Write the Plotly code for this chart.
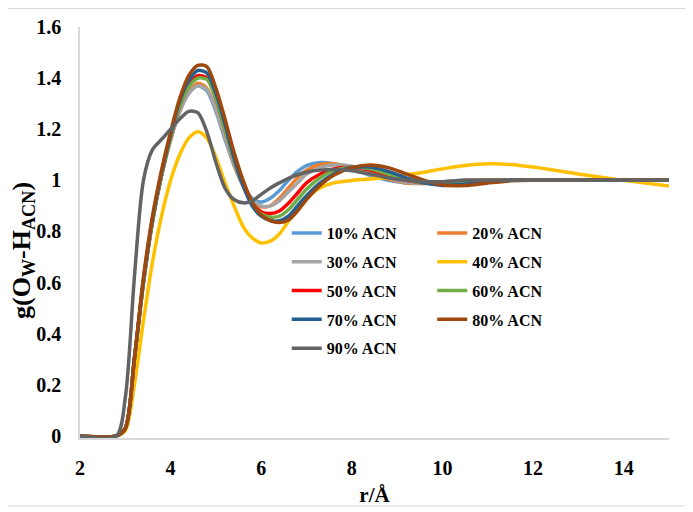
"""RDF plot g(Ow-H_ACN) vs r for water/ACN mixtures."""

import plotly.graph_objects as go

# ------------------------------------------------------------------
# Data
# ------------------------------------------------------------------
r = [2.0, 2.8, 3.0, 3.2, 3.4, 3.6, 3.8, 4.0, 4.2, 4.4, 4.6, 4.8, 5.0, 5.2, 5.4,
     5.6, 5.8, 6.0, 6.2, 6.4, 6.6, 6.8, 7.0, 7.3, 7.6, 8.0, 8.4, 8.8, 9.2, 9.6,
     10.0, 10.5, 11.0, 11.5, 12.0, 13.0, 14.0, 15.0]

g10 = [0, 0, 0.03, 0.3, 0.6, 0.84, 1.02, 1.16, 1.27, 1.34, 1.37, 1.35, 1.27, 1.16,
       1.06, 0.98, 0.93, 0.915, 0.93, 0.96, 1.0, 1.035, 1.058, 1.07, 1.065, 1.045,
       1.02, 1.0, 0.99, 0.99, 0.995, 1.0, 1.0, 1.0, 1.0, 1.0, 1.0, 1.0]
g20 = [0, 0, 0.03, 0.3, 0.6, 0.84, 1.02, 1.16, 1.27, 1.345, 1.38, 1.36, 1.28, 1.17,
       1.06, 0.98, 0.92, 0.897, 0.9, 0.93, 0.97, 1.01, 1.04, 1.062, 1.065, 1.05,
       1.025, 1.005, 0.99, 0.988, 0.993, 1.0, 1.0, 1.0, 1.0, 1.0, 1.0, 1.0]
g30 = [0, 0, 0.03, 0.3, 0.6, 0.84, 1.02, 1.16, 1.27, 1.34, 1.37, 1.355, 1.28, 1.17,
       1.06, 0.98, 0.925, 0.9, 0.9, 0.92, 0.955, 0.99, 1.025, 1.05, 1.06, 1.055,
       1.03, 1.01, 0.993, 0.988, 0.992, 1.0, 1.0, 1.0, 1.0, 1.0, 1.0, 1.0]
g40 = [0, 0, 0.02, 0.2, 0.45, 0.68, 0.86, 1.0, 1.1, 1.165, 1.19, 1.165, 1.09, 0.99,
       0.9, 0.82, 0.775, 0.755, 0.762, 0.79, 0.84, 0.89, 0.93, 0.97, 0.99, 1.0,
       1.005, 1.012, 1.022, 1.032, 1.045, 1.058, 1.065, 1.062, 1.052, 1.025, 1.0, 0.978]
g50 = [0, 0, 0.03, 0.3, 0.6, 0.84, 1.02, 1.17, 1.29, 1.37, 1.41, 1.4, 1.32, 1.2,
       1.08, 0.98, 0.91, 0.877, 0.87, 0.88, 0.91, 0.95, 0.99, 1.025, 1.045, 1.05,
       1.04, 1.02, 1.0, 0.99, 0.99, 0.995, 1.0, 1.0, 1.0, 1.0, 1.0, 1.0]
g60 = [0, 0, 0.03, 0.3, 0.6, 0.84, 1.02, 1.17, 1.29, 1.365, 1.40, 1.395, 1.32, 1.2,
       1.08, 0.98, 0.91, 0.87, 0.857, 0.86, 0.885, 0.925, 0.965, 1.01, 1.038, 1.05,
       1.045, 1.025, 1.003, 0.99, 0.985, 0.99, 1.0, 1.0, 1.0, 1.0, 1.0, 1.0]
g70 = [0, 0, 0.03, 0.3, 0.61, 0.85, 1.03, 1.18, 1.31, 1.39, 1.43, 1.42, 1.34, 1.22,
       1.09, 0.98, 0.9, 0.86, 0.843, 0.842, 0.86, 0.9, 0.94, 0.99, 1.025, 1.05,
       1.052, 1.035, 1.01, 0.99, 0.98, 0.985, 0.995, 1.0, 1.0, 1.0, 1.0, 1.0]
g80 = [0, 0, 0.03, 0.3, 0.62, 0.86, 1.04, 1.19, 1.32, 1.41, 1.45, 1.445, 1.36, 1.24,
       1.11, 1.0, 0.915, 0.865, 0.842, 0.835, 0.845, 0.88, 0.925, 0.98, 1.02, 1.05,
       1.06, 1.05, 1.025, 1.0, 0.982, 0.98, 0.99, 0.998, 1.0, 1.0, 1.0, 1.0]
g90 = [0, 0, 0.15, 0.62, 1.0, 1.12, 1.16, 1.2, 1.24, 1.27, 1.265, 1.19, 1.07, 0.97,
       0.925, 0.912, 0.92, 0.945, 0.97, 0.99, 1.008, 1.022, 1.032, 1.04, 1.042,
       1.038, 1.025, 1.01, 1.0, 0.995, 0.995, 1.0, 1.0, 1.0, 1.0, 1.0, 1.0, 1.0]

labels = ["10% ACN", "20% ACN", "30% ACN", "40% ACN", "50% ACN",
          "60% ACN", "70% ACN", "80% ACN", "90% ACN"]
series = [g10, g20, g30, g40, g50, g60, g70, g80, g90]

x_ticks = [2, 4, 6, 8, 10, 12, 14]
y_ticks = [0, 0.2, 0.4, 0.6, 0.8, 1.0, 1.2, 1.4, 1.6]
y_ticktext = ["0", "0.2", "0.4", "0.6", "0.8", "1", "1.2", "1.4", "1.6"]

# ------------------------------------------------------------------
# Styling
# ------------------------------------------------------------------
COLORS = ["#5B9BD5", "#ED7D31", "#A5A5A5", "#FFC000", "#FF0000",
          "#70AD47", "#255E91", "#9E480E", "#636363"]
FONT = "Liberation Serif, 'Times New Roman', serif"
AXIS_COL = "#D9D9D9"

# the page body keeps its default 8px margin, so the figure is a bit smaller
PAGE_OFF = 8
W, H = 693 - PAGE_OFF, 512 - PAGE_OFF
M = dict(l=72, r=24, t=19, b=74)
pw = W - M["l"] - M["r"]
ph = H - M["t"] - M["b"]

fig = go.Figure()

for i, (lab, g) in enumerate(zip(labels, series)):
    fig.add_trace(
        go.Scatter(
            x=r,
            y=g,
            name=lab,
            mode="lines",
            line=dict(color=COLORS[i], width=3.5, shape="spline", smoothing=0.8),
            legend="legend" if i % 2 == 0 else "legend2",
            legendgroup=lab,
        )
    )

legend_common = dict(
    bgcolor="rgba(0,0,0,0)",
    font=dict(family=FONT, size=16, color="black", weight="bold"),
    tracegroupgap=5,
    yanchor="top",
    xanchor="left",
    y=0.54,
)

tick_font = dict(family=FONT, size=20, color="black", weight="bold")

fig.update_layout(
    width=W,
    height=H,
    margin=M,
    paper_bgcolor="white",
    plot_bgcolor="white",
    font=dict(family=FONT, color="black"),
    showlegend=True,
    legend=dict(x=0.351, **legend_common),
    legend2=dict(x=0.598, **legend_common),
    xaxis=dict(
        range=[2, 15],
        tickvals=x_ticks,
        showgrid=False,
        zeroline=False,
        showline=True,
        linecolor=AXIS_COL,
        linewidth=1.5,
        ticks="",
        automargin=False,
        ticklabelstandoff=11,
        tickfont=tick_font,
        title=dict(text="r/Å", standoff=10,
                   font=dict(family=FONT, size=21, color="black", weight="bold")),
    ),
    yaxis=dict(
        range=[-0.008, 1.6],
        tickvals=y_ticks,
        ticktext=y_ticktext,
        showgrid=False,
        zeroline=False,
        showline=True,
        linecolor=AXIS_COL,
        linewidth=1.5,
        ticks="",
        automargin=False,
        ticklabelstandoff=13,
        tickfont=tick_font,
    ),
)

# y-axis title, placed a little below the axis centre as in the original
fig.add_annotation(
    text="g(O<sub>W</sub>-H<sub>ACN</sub>)",
    xref="paper", yref="paper",
    x=(23 - PAGE_OFF - M["l"]) / pw, y=0.455,
    xanchor="center", yanchor="middle",
    textangle=-90,
    showarrow=False,
    font=dict(family=FONT, size=26, color="black", weight="bold"),
)

# outer chart frame (Excel-style border)
fig.add_shape(
    type="rect",
    xref="paper", yref="paper",
    x0=(3 - PAGE_OFF - M["l"]) / pw, x1=(689 - PAGE_OFF - M["l"]) / pw,
    y0=(H - (506 - PAGE_OFF) - M["b"]) / ph, y1=(H - 0.5 - M["b"]) / ph,
    line=dict(color="#D9D9D9", width=1),
    layer="below",
)

fig.write_html("out.html")
